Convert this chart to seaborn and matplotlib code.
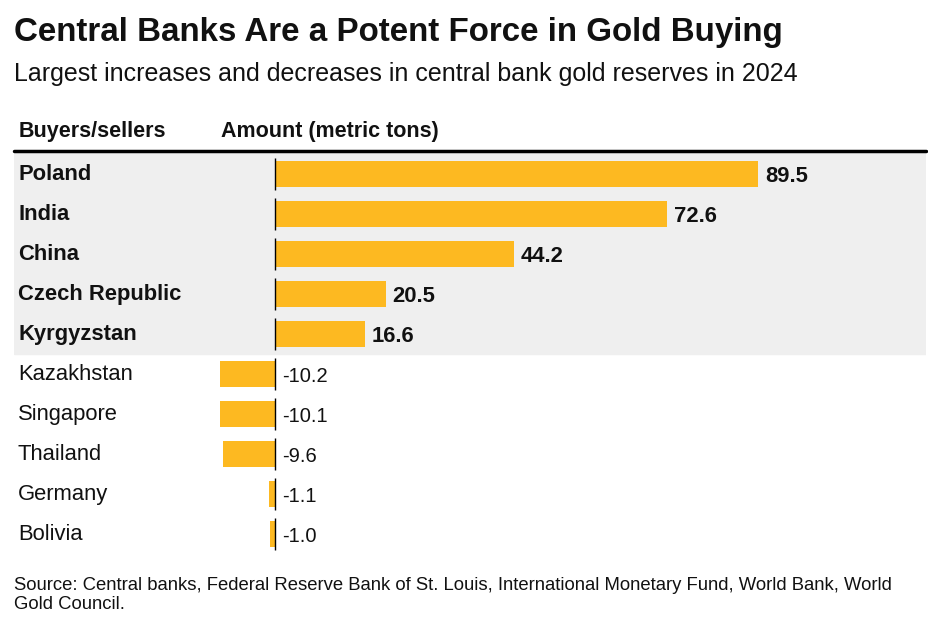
import matplotlib
matplotlib.use("Agg")
import matplotlib.pyplot as plt
import seaborn as sns
import pandas as pd
import numpy as np

countries = ["Poland", "India", "China", "Czech Republic", "Kyrgyzstan",
             "Kazakhstan", "Singapore", "Thailand", "Germany", "Bolivia"]
amounts = [89.5, 72.6, 44.2, 20.5, 16.6, -10.2, -10.1, -9.6, -1.1, -1.0]
labels = ["89.5", "72.6", "44.2", "20.5", "16.6", "-10.2", "-10.1", "-9.6", "-1.1", "-1.0"]
n_buyers = 5

title = "Central Banks Are a Potent Force in Gold Buying"
subtitle = "Largest increases and decreases in central bank gold reserves in 2024"
col1 = "Buyers/sellers"
col2 = "Amount (metric tons)"
source = ("Source: Central banks, Federal Reserve Bank of St. Louis, International Monetary Fund, World Bank, World\n"
          "Gold Council.")

sns.set_theme(style="white")
plt.rcParams["font.family"] = ["Liberation Sans", "DejaVu Sans"]

W, H = 929, 633
fig = plt.figure(figsize=(W / 100, H / 100), dpi=100)

def fx(px):
    return px / W

def fy(py):
    return 1 - py / H

# axes spanning x px 14..926, y px 152..554
ax = fig.add_axes([fx(14), fy(554), fx(926) - fx(14), (554 - 152) / H])
ax.set_facecolor("none")

df = pd.DataFrame({"country": countries, "amount": amounts})
gold = "#FDB921"
sns.barplot(data=df, x="amount", y="country", color=gold, width=0.65,
            saturation=1, ax=ax, orient="h", linewidth=0)

zero_px = 275
scale = (758 - zero_px) / 89.5
ax.set_xlim((14 - zero_px) / scale, (926 - zero_px) / scale)
ax.set_ylim(9.5, -0.55)

# gray band for buyers
ax.axhspan(-0.55, n_buyers - 0.5, color="#efefef", zorder=0)

# zero line segments
idx = np.arange(len(countries))
ax.vlines(np.zeros(len(idx)), idx - 0.4, idx + 0.4, color="black", lw=1, zorder=5)

ax.set_xticks([])
ax.set_yticks([])
ax.set_xlabel("")
ax.set_ylabel("")
for s in ax.spines.values():
    s.set_visible(False)

x_name = (18 - zero_px) / scale
pad = 7 / scale
for i, (c, v, lab) in enumerate(zip(countries, amounts, labels)):
    bold = i < n_buyers
    ax.text(x_name, i + 0.0, c, ha="left", va="center", fontsize=15.8,
            fontweight="bold" if bold else "normal", color="#111111")
    xv = max(v, 0) + pad
    ax.text(xv, i + 0.05, lab, ha="left", va="center",
            fontsize=15.8 if bold else 14.5,
            fontweight="bold" if bold else "normal", color="#111111")

# header line
fig.add_artist(plt.Line2D([fx(14), fx(926)], [fy(151), fy(151)], color="black", lw=2.5))

fig.text(fx(14), fy(33), title, fontsize=23.9, fontweight="bold", ha="left", va="center", color="#111111")
fig.text(fx(14), fy(74), subtitle, fontsize=18, ha="left", va="center", color="#111111")
fig.text(fx(19), fy(131), col1, fontsize=15.5, fontweight="bold", ha="left", va="center", color="#111111")
fig.text(fx(221), fy(131), col2, fontsize=15.5, fontweight="bold", ha="left", va="center", color="#111111")
fig.text(fx(14), fy(595), source, fontsize=13.3, ha="left", va="center", color="#111111", linespacing=1.15)

fig.savefig("out.png", dpi=100, facecolor="white")
